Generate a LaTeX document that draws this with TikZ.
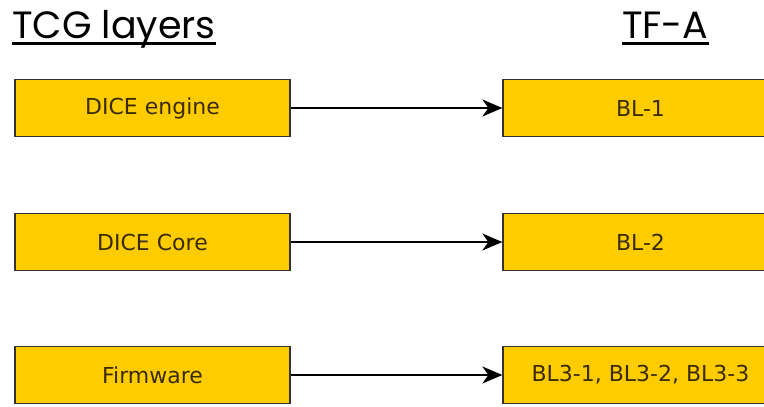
\documentclass[tikz,border=0pt]{standalone}
\usepackage{fontspec}
\newfontfamily\titlefont{Poppins}
\newfontfamily\boxfont{DejaVu Sans}
\usetikzlibrary{arrows.meta}
\definecolor{layergold}{HTML}{FFCC00}
\definecolor{layertext}{HTML}{3A2C00}

\begin{document}
\begin{tikzpicture}[x=1pt, y=-1pt,
  layer/.style={draw=black!80, fill=layergold, line width=1.3pt,
                minimum width=275pt, minimum height=57pt, inner sep=0pt,
                font=\boxfont\fontsize{22}{26}\selectfont, text=layertext},
  head/.style={anchor=base west, inner sep=0pt,
               font=\titlefont\fontsize{38}{44}\selectfont},
  link/.style={-{Stealth[length=20pt, width=17pt, inset=6pt]}, line width=1.6pt}]
  \useasboundingbox (0,0) rectangle (764,407);
  \clip (0,0) rectangle (764,407);
  % column headings
  \node[head] (tcg) at (12,38) {TCG layers};
  \node[head] (tfa) at (622,38) {TF-A};
  \draw[line width=2.5pt] ([yshift=-5.5pt]tcg.base west) -- ([yshift=-5.5pt]tcg.base east);
  \draw[line width=2.5pt] ([yshift=-5.5pt]tfa.base west) -- ([yshift=-5.5pt]tfa.base east);
  % TCG side
  \node[layer] (engine) at (152.5,108) {DICE engine};
  \node[layer] (core) at (152.5,242) {DICE Core};
  \node[layer] (fw) at (152.5,375) {Firmware};
  % TF-A side, runs past the right edge
  \node[layer] (bl1) at (640.5,108) {BL-1};
  \node[layer] (bl2) at (640.5,242) {BL-2};
  \node[layer] (bl3) at (640.5,375) {BL3-1, BL3-2, BL3-3};
  \draw[link] (engine) -- (bl1);
  \draw[link] (core) -- (bl2);
  \draw[link] (fw) -- (bl3);
\end{tikzpicture}
\end{document}
